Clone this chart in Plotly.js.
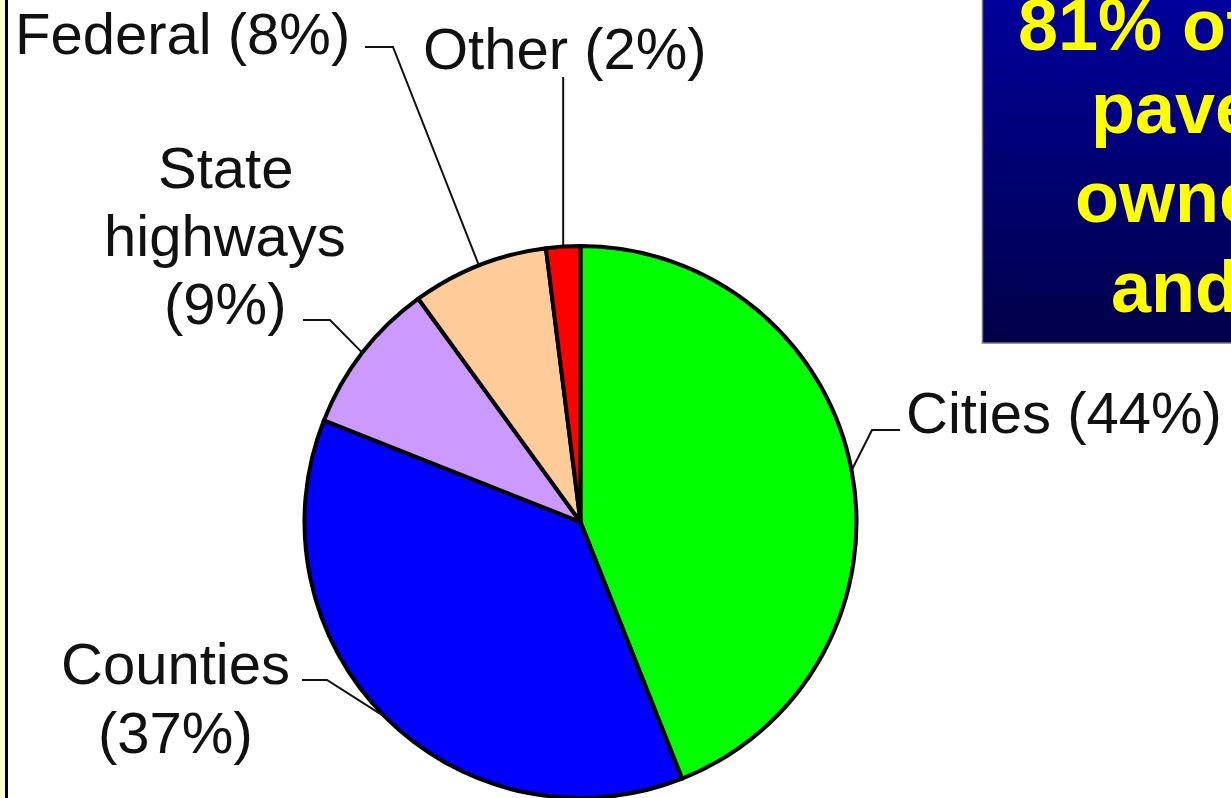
<!DOCTYPE html>
<html><head><meta charset="utf-8">
<script src="https://cdn.plot.ly/plotly-3.0.1.min.js"></script>
<style>html,body{margin:0;padding:0;background:#fff;overflow:hidden}#chart{width:1231px;height:798px}</style>
</head><body><div id="chart"></div>
<script>
// ---- data ----
const categories = ['Cities', 'Counties', 'State highways', 'Federal', 'Other'];
const shares = [44, 37, 9, 8, 2];
const sliceColors = ['#00FF00', '#0000FF', '#CC99FF', '#FFCC99', '#FF0000'];
// label text split into lines as shown in the picture
const labelLines = [
  ['Cities (44%)'],
  ['Counties', '(37%)'],
  ['State', 'highways', '(9%)'],
  ['Federal (8%)'],
  ['Other (2%)']
];
const calloutLines = ['81% of the', 'pavement', 'owned by', 'and counties'];

// ---- layout helpers (pixel -> paper) ----
const W = 1231, H = 798;
const px = x => x / W;
const py = y => 1 - y / H;

const pieDomain = {x: [303 / W, 858 / W], y: [0, 552 / H]};
const cx = (pieDomain.x[0] + pieDomain.x[1]) / 2 * W;
const cy = (1 - (pieDomain.y[0] + pieDomain.y[1]) / 2) * H;
const R = Math.min((pieDomain.x[1] - pieDomain.x[0]) * W, (pieDomain.y[1] - pieDomain.y[0]) * H) / 2;

// label placement (pixels): anchor, x, line centre y's, leader start points
const labelPlace = [
  {anchor: 'left',   x: 904, ys: [412],           lead: [[900, 430], [872, 430]]},
  {anchor: 'center', x: 175, ys: [663, 732],      lead: [[302, 680], [327, 680]]},
  {anchor: 'center', x: 225, ys: [167, 235, 303], lead: [[303, 320], [330, 320]]},
  {anchor: 'left',   x: 13,  ys: [34],            lead: [[365, 47], [393, 47]]},
  {anchor: 'left',   x: 421, ys: [48],            lead: null}
];

const total = shares.reduce((a, b) => a + b, 0);
let cum = 0;
const annotations = [];
const shapes = [];
shares.forEach((v, i) => {
  const mid = (cum + v / 2) / total * 2 * Math.PI;
  cum += v;
  const ex = cx + R * Math.sin(mid);
  const ey = cy - R * Math.cos(mid);
  const p = labelPlace[i];
  labelLines[i].forEach((t, k) => {
    annotations.push({
      text: t, xref: 'paper', yref: 'paper', x: px(p.x), y: py(p.ys[k]),
      xanchor: p.anchor, yanchor: 'middle', showarrow: false,
      font: {family: 'Liberation Sans, Arial, sans-serif', size: 58, color: '#111'}
    });
  });
  const pts = p.lead ? p.lead.concat([[ex, ey]]) : [[ex, 77], [ex, ey]];
  shapes.push({
    type: 'path', xref: 'paper', yref: 'paper', layer: 'above',
    path: pts.map((q, k) => (k ? 'L' : 'M') + px(q[0]) + ',' + py(q[1])).join(' '),
    line: {color: '#111', width: 2}
  });
});

// left frame edge
shapes.push({type: 'rect', xref: 'paper', yref: 'paper', x0: 0, x1: px(5), y0: 0, y1: 1, fillcolor: '#FFFFD2', line: {width: 0}, layer: 'below'});
shapes.push({type: 'rect', xref: 'paper', yref: 'paper', x0: px(5), x1: px(8), y0: 0, y1: 1, fillcolor: '#000', line: {width: 0}, layer: 'below'});

// callout box (gradient) at top right
const gradSvg = "<svg xmlns='http://www.w3.org/2000/svg' width='100' height='100' preserveAspectRatio='none'>" +
  "<defs><linearGradient id='g' x1='0' y1='0' x2='0' y2='1'><stop offset='0' stop-color='#00009C'/><stop offset='1' stop-color='#000048'/></linearGradient></defs>" +
  "<rect width='100' height='100' fill='url(#g)'/></svg>";
const images = [{
  source: 'data:image/svg+xml;charset=utf-8,' + encodeURIComponent(gradSvg),
  xref: 'paper', yref: 'paper', x: px(982), y: 1, sizex: px(W) - px(982), sizey: 343 / H,
  xanchor: 'left', yanchor: 'top', sizing: 'stretch', layer: 'below'
}];
shapes.push({type: 'path', xref: 'paper', yref: 'paper', path: 'M' + px(982.5) + ',1 L' + px(982.5) + ',' + py(343) + ' L1,' + py(343), line: {color: '#777', width: 1.5}, layer: 'below'});

const calloutX = [1016, 1089, 1073, 1109];
const calloutY = [25, 108, 197, 287];
calloutLines.forEach((t, k) => {
  annotations.push({
    text: '<b>' + t + '</b>', xref: 'paper', yref: 'paper', x: px(calloutX[k]), y: py(calloutY[k]),
    xanchor: 'left', yanchor: 'middle', showarrow: false,
    font: {family: 'Liberation Sans, Arial, sans-serif', size: 72, color: '#FFFF00'}
  });
});

const trace = {
  type: 'pie', labels: categories, values: shares, sort: false,
  direction: 'clockwise', rotation: 0, textinfo: 'none', hoverinfo: 'none',
  marker: {colors: sliceColors, line: {color: '#000', width: 4}},
  domain: pieDomain, showlegend: false
};

Plotly.newPlot('chart', [trace], {
  width: W, height: H, margin: {l: 0, r: 0, t: 0, b: 0},
  paper_bgcolor: '#fff', plot_bgcolor: '#fff', showlegend: false,
  annotations: annotations, shapes: shapes, images: images
}, {displayModeBar: false, staticPlot: true});
</script></body></html>
